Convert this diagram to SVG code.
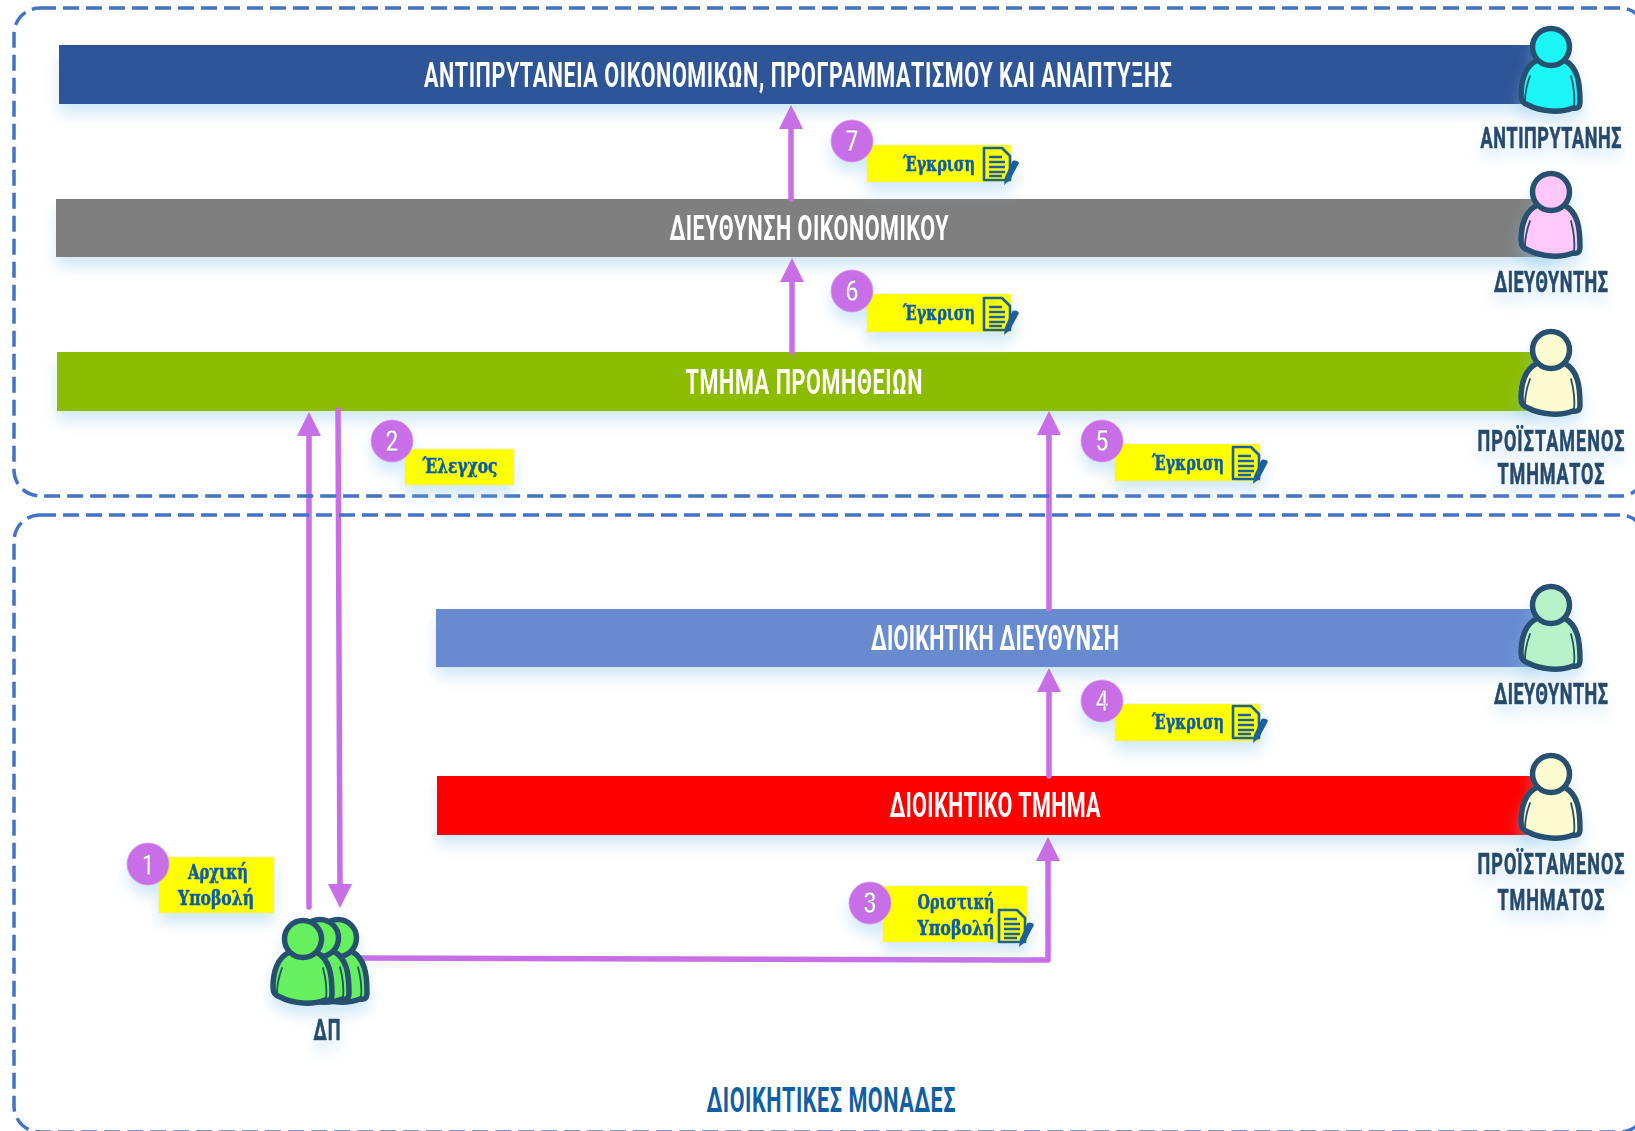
<svg xmlns="http://www.w3.org/2000/svg" width="1635" height="1131" viewBox="0 0 1635 1131">
<defs>
<style>
.box{fill:none;stroke:#4472c4;stroke-width:3.5;stroke-dasharray:16 7}
.bar{filter:url(#sh)}
.bt{font-family:"Roboto","Liberation Sans",sans-serif;font-weight:700;font-size:36px;fill:#fff;text-anchor:middle}
.rl{font-family:"Roboto","Liberation Sans",sans-serif;font-weight:700;font-size:30px;fill:#264a6d;stroke:#264a6d;stroke-width:.7;text-anchor:middle}
.yl{fill:#ffff00;stroke:#e8e8a0;stroke-width:.6}
.yt{font-family:"DejaVu Serif","Liberation Serif",serif;font-weight:700;font-size:20px;fill:#0b5ca8;stroke:#0b5ca8;stroke-width:.55;text-anchor:middle}
.bc{fill:#c86ee6;stroke:#d59ae8;stroke-width:.8}
.bn{font-family:"Roboto","Liberation Sans",sans-serif;font-weight:500;font-size:29px;fill:#fff;stroke:#7a5a9a;stroke-width:.3;text-anchor:middle}
.cn{fill:none;stroke:#c86ee6;stroke-width:5.5;stroke-linecap:round;stroke-linejoin:round}
.ah{fill:#c86ee6}
.ps{stroke:#27506f;stroke-width:5.5;stroke-linejoin:round}
.pl{fill:none;stroke:#27506f;stroke-width:1.8;stroke-linecap:round}
.dc{fill:none;stroke:#1f5f9f;stroke-width:2.6;stroke-linejoin:round}
.dl{fill:none;stroke:#1f5f9f;stroke-width:2.4}
.pn{fill:#1f5f9f}
</style>
<filter id="sh" x="-10%" y="-30%" width="120%" height="190%">
<feDropShadow dx="0" dy="10" stdDeviation="7" flood-color="#8cc4ea" flood-opacity=".38"/>
</filter>
<g id="person">
<path class="ps" d="M-13,13 C-26,18 -30,34 -30,48 C-30,54 -28,56 -23,58 C-10,65 10,66 22,61 C27,62 29,60 29,55 C29,36 27,20 13,13 Z"/>
<circle class="ps" cx="0" cy="0" r="18.5"/>
<path class="pl" d="M-21,29 C-25,40 -26,48 -26,54 M20,29 C23,40 24,50 23,60"/>
</g>
<g id="doc">
<path class="dc" d="M2,1 H20 L28,9 V33 H2 Z"/>
<path class="dl" d="M7,10 H20 M7,15 H23 M7,20 H23 M7,25 H23 M7,29 H20"/>
<path class="pn" d="M30,15 C31,13 35,13 37,16 L28,33 L22,38 L23,30 Z"/>
</g>
</defs>
<rect width="1635" height="1131" fill="#fff"/>

<g id="bars">
<g id="n-antiprytaneia" class="bar"><rect x="59" y="45" width="1475" height="59" fill="#2f5597"/><text class="bt" transform="translate(798,87) scale(.6,1)" textLength="1247">ΑΝΤΙΠΡΥΤΑΝΕΙΑ ΟΙΚΟΝΟΜΙΚΩΝ, ΠΡΟΓΡΑΜΜΑΤΙΣΜΟΥ ΚΑΙ ΑΝΑΠΤΥΞΗΣ</text></g>
<g id="n-dieuthynsi-oikonomikou" class="bar"><rect x="56" y="199" width="1500" height="58" fill="#7f7f7f"/><text class="bt" transform="translate(809,240) scale(.6,1)" textLength="465">ΔΙΕΥΘΥΝΣΗ ΟΙΚΟΝΟΜΙΚΟΥ</text></g>
<g id="n-tmima-promitheion" class="bar"><rect x="57" y="352" width="1478" height="59" fill="#8cbc00"/><text class="bt" transform="translate(804,394) scale(.6,1)" textLength="395">ΤΜΗΜΑ ΠΡΟΜΗΘΕΙΩΝ</text></g>
<g id="n-dioikitiki-dieuthynsi" class="bar"><rect x="436" y="609" width="1100" height="58" fill="#688bd0"/><text class="bt" transform="translate(995,650) scale(.6,1)" textLength="413">ΔΙΟΙΚΗΤΙΚΗ ΔΙΕΥΘΥΝΣΗ</text></g>
<g id="n-dioikitiko-tmima" class="bar"><rect x="437" y="776" width="1100" height="59" fill="#ff0000"/><text class="bt" transform="translate(995,817) scale(.6,1)" textLength="352">ΔΙΟΙΚΗΤΙΚΟ ΤΜΗΜΑ</text></g>
</g>

<g id="connectors">
<path class="cn" d="M309,907 L309,436"/><path class="ah" d="M309,412 L321,436 L297,436 Z"/>
<path class="cn" d="M338,410 L340,886"/><path class="ah" d="M340,908 L328,884 L352,884 Z"/>
<path class="cn" d="M791,199 L791,128"/><path class="ah" d="M791,105 L803,129 L779,129 Z"/>
<path class="cn" d="M792,352 L792,282"/><path class="ah" d="M792,258 L804,282 L780,282 Z"/>
<path class="cn" d="M1049,609 L1049,435"/><path class="ah" d="M1049,411 L1061,435 L1037,435 Z"/>
<path class="cn" d="M1049,776 L1049,692"/><path class="ah" d="M1049,668 L1061,692 L1037,692 Z"/>
<path class="cn" d="M358,958 L1048,960 L1048,860"/><path class="ah" d="M1048,837 L1060,861 L1036,861 Z"/>
</g>

<g id="containers">
<rect id="box-upper" class="box" x="14" y="8" width="1632" height="488" rx="26"/>
<rect id="box-lower" class="box" x="14" y="515" width="1632" height="617" rx="26"/>
</g>

<g id="people">
<g id="p-antiprytanis" class="bar"><use href="#person" x="1551" y="47" fill="#1ff5f5"/><text class="rl" transform="translate(1551,148) scale(.6,1)" textLength="235">ΑΝΤΙΠΡΥΤΑΝΗΣ</text></g>
<g id="p-dieuthyntis-1" class="bar"><use href="#person" x="1551" y="192" fill="#ffc8f8"/><text class="rl" transform="translate(1551,292) scale(.6,1)" textLength="190">ΔΙΕΥΘΥΝΤΗΣ</text></g>
<g id="p-proistamenos-1" class="bar"><use href="#person" x="1551" y="350" fill="#fdfbd0"/><text class="rl" transform="translate(1551,451) scale(.6,1)" textLength="245">ΠΡΟΪΣΤΑΜΕΝΟΣ</text><text class="rl" transform="translate(1551,484) scale(.6,1)" textLength="178">ΤΜΗΜΑΤΟΣ</text></g>
<g id="p-dieuthyntis-2" class="bar"><use href="#person" x="1551" y="605" fill="#b8f2c8"/><text class="rl" transform="translate(1551,704) scale(.6,1)" textLength="190">ΔΙΕΥΘΥΝΤΗΣ</text></g>
<g id="p-proistamenos-2" class="bar"><use href="#person" x="1551" y="774" fill="#fdfbd0"/><text class="rl" transform="translate(1551,874) scale(.6,1)" textLength="245">ΠΡΟΪΣΤΑΜΕΝΟΣ</text><text class="rl" transform="translate(1551,910) scale(.6,1)" textLength="178">ΤΜΗΜΑΤΟΣ</text></g>
<g id="p-dp" class="bar"><use href="#person" x="338" y="938" fill="#66f05e"/><use href="#person" x="320" y="938" fill="#66f05e"/><use href="#person" x="303" y="939" fill="#66f05e"/><text class="rl" transform="translate(327,1040) scale(.6,1)" textLength="45">ΔΠ</text></g>
</g>

<g id="steps">
<g id="s1" class="bar"><rect class="yl" x="159" y="857" width="115" height="56"/><circle class="bc" cx="148" cy="864" r="21"/><text class="bn" x="148" y="875" textLength="12" lengthAdjust="spacingAndGlyphs">1</text><text class="yt" x="218" y="879" textLength="60" lengthAdjust="spacingAndGlyphs">Αρχική</text><text class="yt" x="216" y="905" textLength="76" lengthAdjust="spacingAndGlyphs">Υποβολή</text></g>
<g id="s2" class="bar"><rect class="yl" x="405" y="449" width="109" height="36"/><circle class="bc" cx="392" cy="441" r="21"/><text class="bn" x="392" y="451" textLength="13" lengthAdjust="spacingAndGlyphs">2</text><text class="yt" x="460" y="473" textLength="75" lengthAdjust="spacingAndGlyphs">Έλεγχος</text></g>
<g id="s3" class="bar"><rect class="yl" x="883" y="886" width="144" height="56"/><circle class="bc" cx="870" cy="903" r="21"/><text class="bn" x="870" y="913" textLength="13" lengthAdjust="spacingAndGlyphs">3</text><text class="yt" x="956" y="909" textLength="77" lengthAdjust="spacingAndGlyphs">Οριστική</text><text class="yt" x="956" y="935" textLength="77" lengthAdjust="spacingAndGlyphs">Υποβολή</text><use href="#doc" x="997" y="909"/></g>
<g id="s4" class="bar"><rect class="yl" x="1115" y="704" width="145" height="37"/><circle class="bc" cx="1102" cy="701" r="21"/><text class="bn" x="1102" y="711" textLength="13" lengthAdjust="spacingAndGlyphs">4</text><text class="yt" x="1188" y="729" textLength="72" lengthAdjust="spacingAndGlyphs">Έγκριση</text><use href="#doc" x="1231" y="705"/></g>
<g id="s5" class="bar"><rect class="yl" x="1115" y="444" width="145" height="37"/><circle class="bc" cx="1102" cy="441" r="21"/><text class="bn" x="1102" y="451" textLength="13" lengthAdjust="spacingAndGlyphs">5</text><text class="yt" x="1188" y="470" textLength="72" lengthAdjust="spacingAndGlyphs">Έγκριση</text><use href="#doc" x="1231" y="446"/></g>
<g id="s6" class="bar"><rect class="yl" x="867" y="294" width="144" height="38"/><circle class="bc" cx="852" cy="291" r="21"/><text class="bn" x="852" y="301" textLength="13" lengthAdjust="spacingAndGlyphs">6</text><text class="yt" x="939" y="320" textLength="72" lengthAdjust="spacingAndGlyphs">Έγκριση</text><use href="#doc" x="982" y="297"/></g>
<g id="s7" class="bar"><rect class="yl" x="867" y="145" width="144" height="37"/><circle class="bc" cx="852" cy="141" r="21"/><text class="bn" x="852" y="151" textLength="13" lengthAdjust="spacingAndGlyphs">7</text><text class="yt" x="939" y="171" textLength="72" lengthAdjust="spacingAndGlyphs">Έγκριση</text><use href="#doc" x="982" y="147"/></g>
</g>

<text id="label-dioikitikes" transform="translate(831,1112) scale(.6,1)" font-family="Roboto,'Liberation Sans',sans-serif" font-weight="700" font-size="36" fill="#0f5fa6" text-anchor="middle" textLength="415">ΔΙΟΙΚΗΤΙΚΕΣ ΜΟΝΑΔΕΣ</text>
</svg>
